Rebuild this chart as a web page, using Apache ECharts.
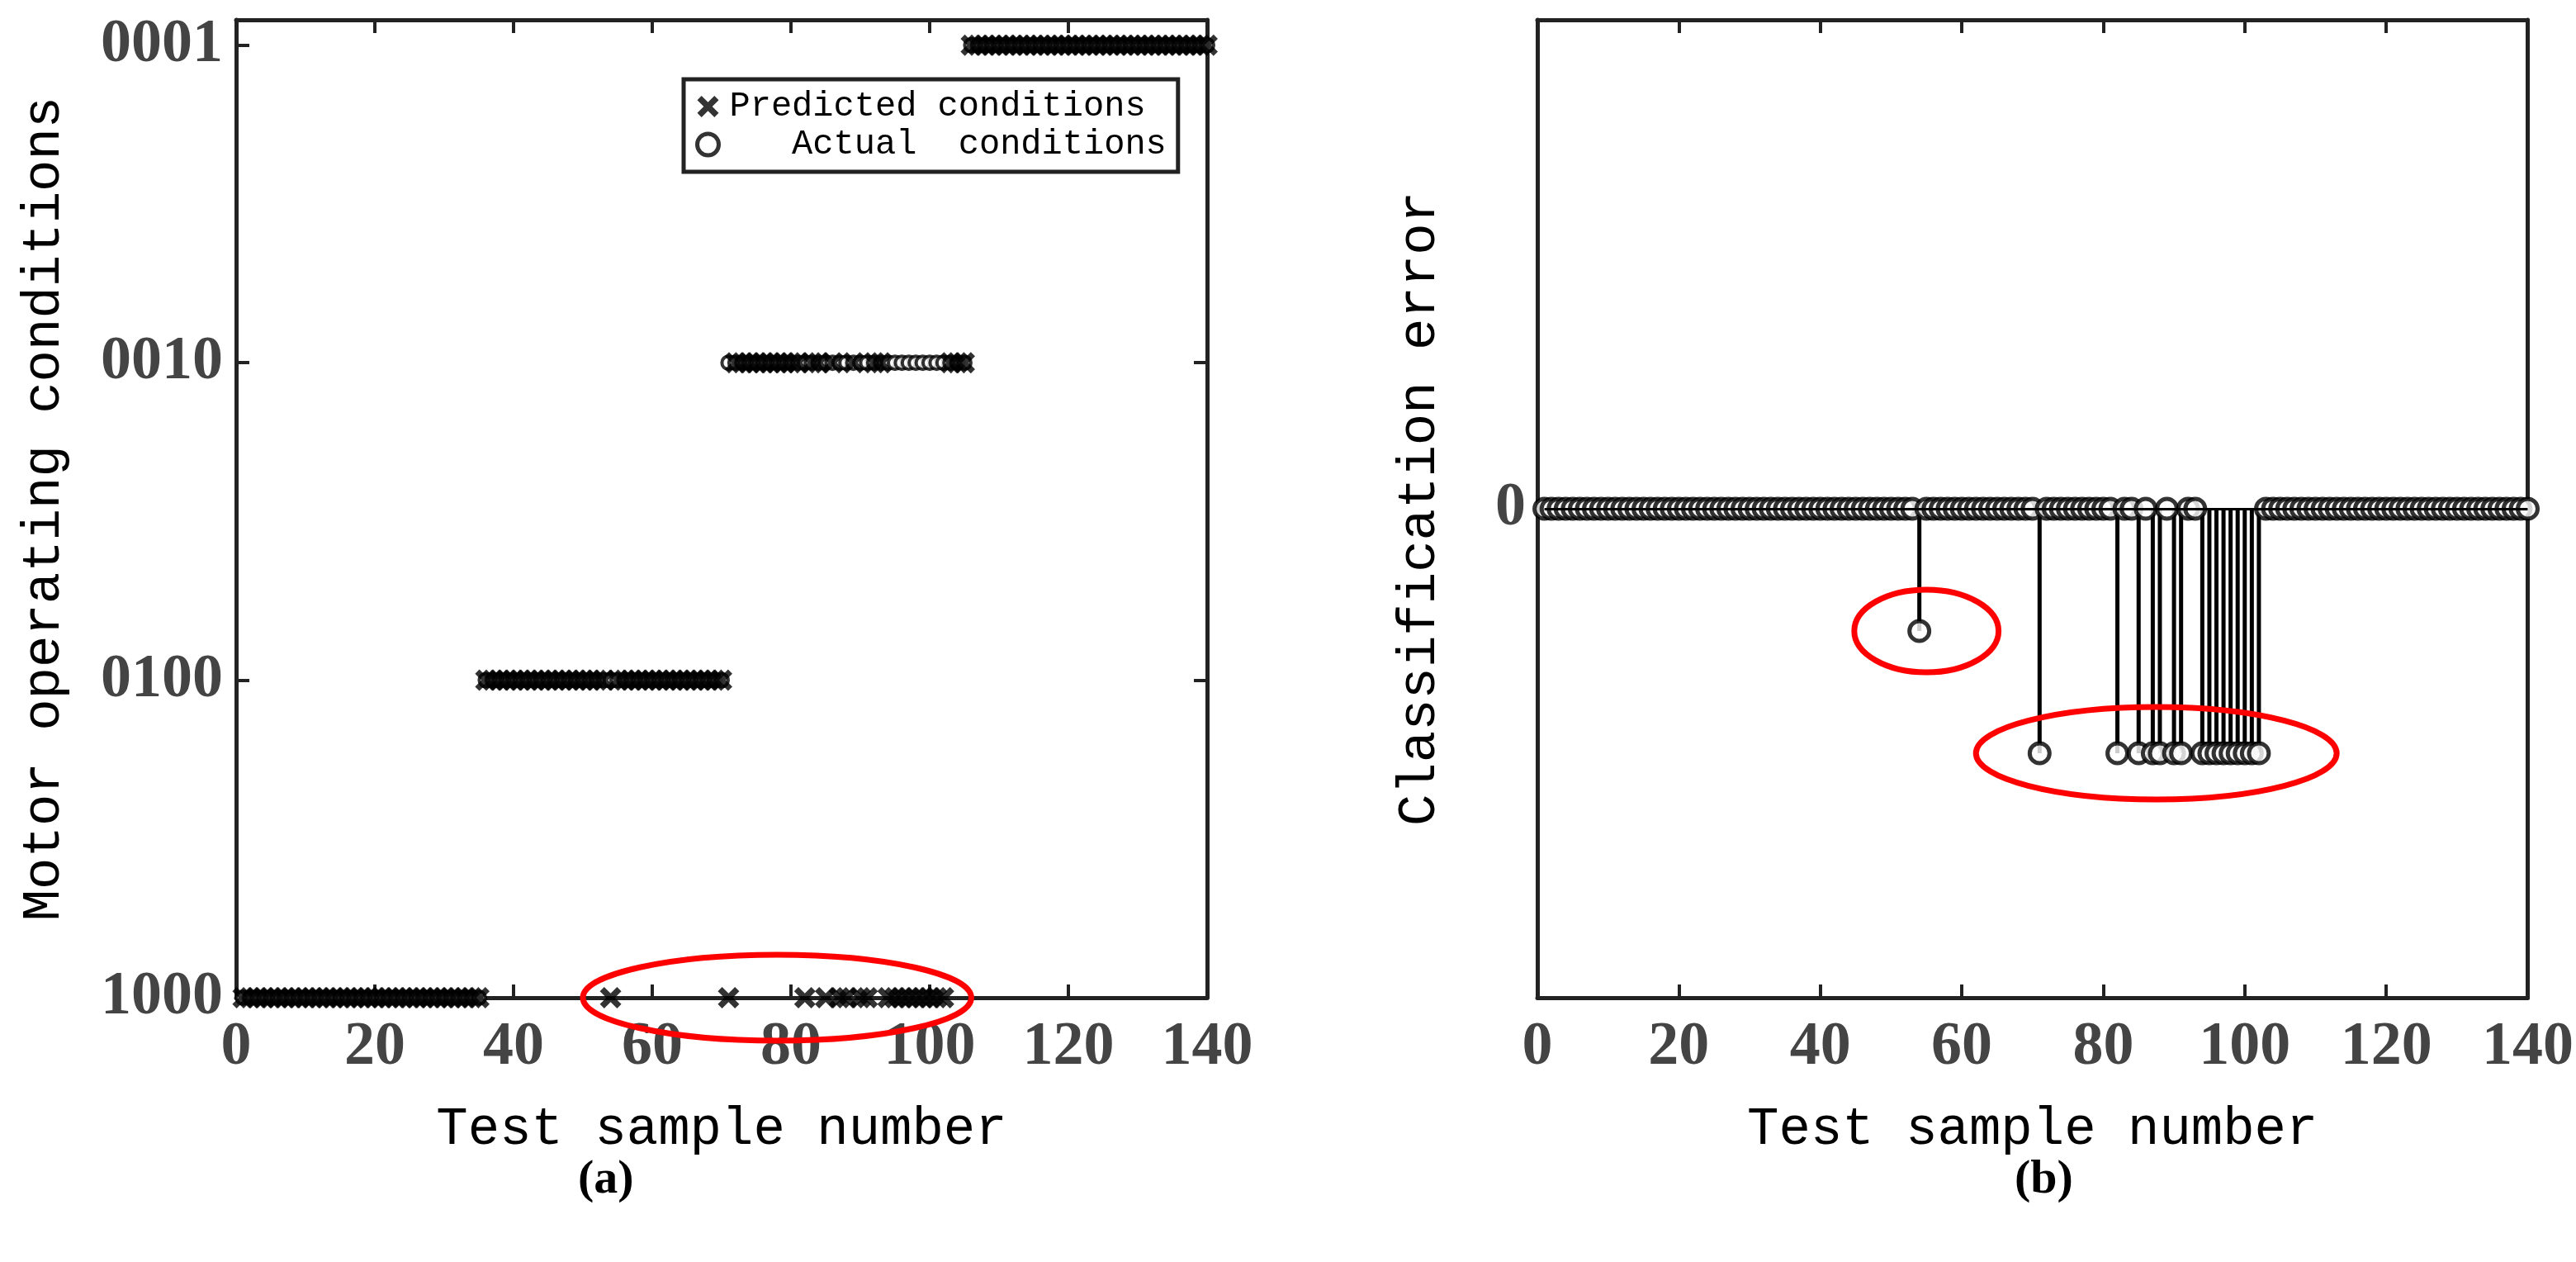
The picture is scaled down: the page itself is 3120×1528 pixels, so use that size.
<!DOCTYPE html>
<html><head><meta charset="utf-8">
<script src="https://cdn.jsdelivr.net/npm/echarts@6/dist/echarts.min.js"></script>
<style>html,body{margin:0;padding:0;background:#fff}#c{width:3120px;height:1528px}</style>
</head><body><div id="c"></div>
<script>
// sample indices 1..140
const samples = Array.from({length:140},(_, i)=>i+1);
// actual condition blocks (class 1..4 = 1000,0100,0010,0001)
const classBlocks = [[1,35,1],[36,70,2],[71,105,3],[106,140,4]];
// misclassified samples -> predicted class
const errorSamples = [54,71,82,85,87,88,90,91,94,95,96,97,98,99,100,101,102];
const errorPredicted = [1,1,1,1,1,1,1,1,1,1,1,1,1,1,1,1,1];
const yTickLabels = {1:'1000',2:'0100',3:'0010',4:'0001'};

const actual = samples.map(s=>{for(const b of classBlocks){if(s>=b[0]&&s<=b[1])return b[2];}});
const predicted = samples.map((s,i)=>{const k=errorSamples.indexOf(s);return k>=0?errorPredicted[k]:actual[i];});
const errors = samples.map((s,i)=>predicted[i]-actual[i]);

const X = 'path://M0,2L2,0L5,3L8,0L10,2L7,5L10,8L8,10L5,7L2,10L0,8L3,5Z';
const labelFont = {fontFamily:'Liberation Serif',fontSize:74,color:'#444',fontWeight:'bold'};
const titleFont = {fontFamily:'Liberation Mono',fontSize:64,color:'#000'};
const axLine = {onZero:false,lineStyle:{color:'#222',width:5}};
const tickIn = {show:true,inside:true,length:16,lineStyle:{color:'#222',width:4}};

function xAx(gi){return [
 {type:'value',gridIndex:gi,min:0,max:140,interval:20,name:'Test sample number',nameLocation:'middle',nameGap:128,nameTextStyle:titleFont,
  axisLine:axLine,axisTick:tickIn,splitLine:{show:false},axisLabel:Object.assign({margin:24},labelFont)},
 {type:'value',gridIndex:gi,position:'top',min:0,max:140,interval:20,axisLine:axLine,axisTick:tickIn,splitLine:{show:false},axisLabel:{show:false}}
];}

const option = {
 animation:false,
 grid:[{left:286,top:24,width:1176,height:1184},{left:1862,top:24,width:1208,height:1184}],
 xAxis:[...xAx(0),...xAx(1)],
 yAxis:[
  {type:'value',gridIndex:0,min:1,max:4.08,interval:1,name:'Motor operating conditions',nameLocation:'middle',nameGap:200,nameTextStyle:titleFont,
   axisLine:axLine,axisTick:tickIn,splitLine:{show:false},
   axisLabel:Object.assign({margin:16,showMaxLabel:false,formatter:v=>yTickLabels[v]||''},labelFont)},
  {type:'value',gridIndex:0,position:'right',min:1,max:4.08,interval:1,axisLine:axLine,axisTick:tickIn,splitLine:{show:false},axisLabel:{show:false}},
  {type:'value',gridIndex:1,min:-4,max:4,interval:1,name:'Classification error',nameLocation:'middle',nameGap:110,nameTextStyle:titleFont,
   axisLine:axLine,axisTick:{show:false},splitLine:{show:false},
   axisLabel:Object.assign({margin:14,formatter:v=>v===0?'0':''},labelFont)},
  {type:'value',gridIndex:1,position:'right',min:-4,max:4,axisLine:axLine,axisTick:{show:false},splitLine:{show:false},axisLabel:{show:false}}
 ],
 legend:{left:828,top:96,orient:'vertical',borderColor:'#222',borderWidth:5,padding:[12,14,12,14],itemGap:4,itemWidth:26,itemHeight:26,
  textStyle:{fontFamily:'Liberation Mono',fontSize:42,color:'#000',padding:[0,0,0,8]},
  data:[{name:'Predicted conditions',icon:X},{name:'Actual conditions',icon:'circle',itemStyle:{color:'#fff',borderColor:'#000',borderWidth:5}}],
  formatter:n=>n==='Actual conditions'?'   Actual  conditions':n},
 series:[
  {name:'Actual conditions',type:'scatter',xAxisIndex:0,yAxisIndex:0,symbol:'circle',symbolSize:16,
   itemStyle:{color:'#fff',borderColor:'#000',borderWidth:4},data:samples.map((s,i)=>[s,actual[i]])},
  {name:'Predicted conditions',type:'scatter',xAxisIndex:0,yAxisIndex:0,symbol:X,symbolSize:26,
   itemStyle:{color:'#000'},data:samples.map((s,i)=>[s,predicted[i]])},
  {name:'stems',type:'bar',xAxisIndex:2,yAxisIndex:2,barWidth:5,itemStyle:{color:'#000'},
   data:samples.map((s,i)=>[s,errors[i]]),
   markLine:{silent:true,symbol:'none',label:{show:false},lineStyle:{color:'#000',width:3,type:'solid'},data:[[{coord:[1,0]},{coord:[140,0]}]]}},
  {name:'errpts',type:'scatter',xAxisIndex:2,yAxisIndex:2,symbol:'circle',symbolSize:24,
   itemStyle:{color:'#fff',borderColor:'#000',borderWidth:5},data:samples.map((s,i)=>[s,errors[i]])}
 ]
};
const chart = echarts.init(document.getElementById('c'));
chart.setOption(option);

// red highlight ellipses (data-anchored annotations)
const rings = [
 {grid:0,c:[78,1],rx:28,ry:52},
 {grid:1,c:[55,-1],rx:10.2,ry:50},
 {grid:1,c:[87.5,-2],rx:25.5,ry:56}
];
const gr = rings.map(r=>{
 const p = chart.convertToPixel({gridIndex:r.grid},r.c);
 const p2 = chart.convertToPixel({gridIndex:r.grid},[r.c[0]+r.rx,r.c[1]]);
 return {type:'ellipse',shape:{cx:p[0],cy:p[1],rx:p2[0]-p[0],ry:r.ry},style:{fill:'none',stroke:'#f00',lineWidth:7},z:100};
});
gr.push({type:'text',left:700,top:1400,style:{text:'(a)',font:'bold 58px "Liberation Serif"',fill:'#000'}});
gr.push({type:'text',left:2440,top:1400,style:{text:'(b)',font:'bold 58px "Liberation Serif"',fill:'#000'}});
chart.setOption({graphic:gr});
</script></body></html>
